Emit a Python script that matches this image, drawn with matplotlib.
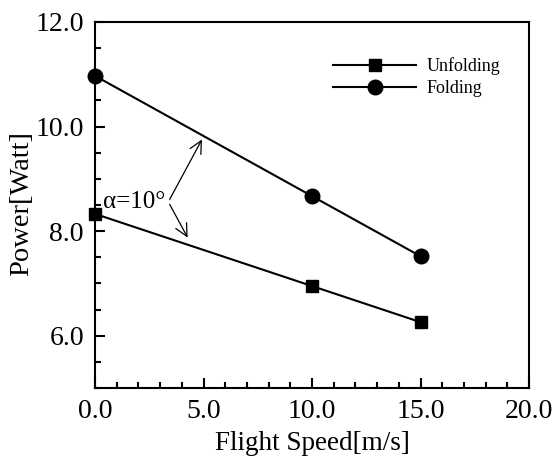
import numpy as np
import matplotlib
matplotlib.use("Agg")
import matplotlib.pyplot as plt
from matplotlib.ticker import MultipleLocator, FormatStrFormatter

speed = [0.0, 10.0, 15.0]
unfolding = [8.33, 6.95, 6.26]
folding = [10.97, 8.67, 7.52]

plt.rcParams['font.family'] = ['Liberation Serif', 'DejaVu Serif']

fig = plt.figure(figsize=(5.57, 4.61), dpi=100)
ax = fig.add_axes([95/557, 1-388/461, (529-95)/557, (388-22)/461])

ax.plot(speed, unfolding, c="k", lw=1.5, marker="s", ms=8, label="Unfolding", clip_on=False)
ax.plot(speed, folding, c="k", lw=1.5, marker="o", ms=10.5, label="Folding", clip_on=False)

ax.set_xlim(0, 20)
ax.set_ylim(5, 12)
ax.xaxis.set_major_locator(MultipleLocator(5))
ax.xaxis.set_minor_locator(MultipleLocator(1))
ax.yaxis.set_minor_locator(MultipleLocator(0.5))
ax.xaxis.set_major_formatter(FormatStrFormatter('%.1f'))
ax.yaxis.set_major_formatter(FormatStrFormatter('%.1f'))
ax.set_yticks([6, 8, 10, 12])
ax.tick_params(which='both', direction='in', top=False, right=False, labelsize=20, width=1.5)
ax.tick_params(which='major', length=7.5, pad=8)
ax.tick_params(which='minor', length=4.5)
for s in ax.spines.values():
    s.set_linewidth(1.5)

ax.set_xlabel("Flight Speed[m/s]", fontsize=19.5, labelpad=5)
ax.set_ylabel("Power[Watt]", fontsize=20.5)
ax.yaxis.set_label_coords(-0.14, 0.505)

# angle annotation
vx, vy = 3.38, 8.56
ax.annotate("", xy=(4.99, 9.80), xytext=(vx, vy),
            arrowprops=dict(arrowstyle="->", lw=0.9, color="k", mutation_scale=22))
ax.annotate("", xy=(4.33, 7.83), xytext=(vx, vy),
            arrowprops=dict(arrowstyle="->", lw=0.9, color="k", mutation_scale=22))
ax.text(vx - 0.12, vy, "α=10°", fontsize=18, ha="right", va="center")

ax.legend(loc="upper left", bbox_to_anchor=(333/557, 1-57/461), bbox_transform=fig.transFigure,
          frameon=False, fontsize=13, borderpad=0, borderaxespad=0,
          handlelength=4.6, handletextpad=0.6, labelspacing=0.3)

fig.savefig("out.png", dpi=100)
